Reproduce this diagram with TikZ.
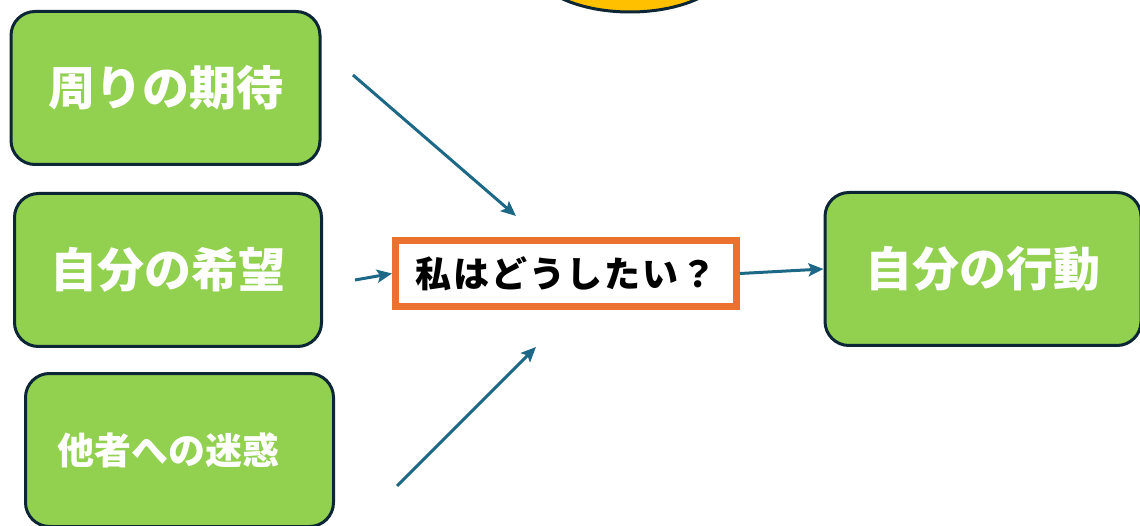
\documentclass[tikz,border=0pt]{standalone}
\usepackage{fontspec}
\newfontfamily\cjk{Noto Sans CJK JP}
\usetikzlibrary{arrows.meta,shapes.geometric}
\definecolor{boxgreen}{HTML}{92D050}
\definecolor{boxline}{HTML}{0C2636}
\definecolor{arrowblue}{HTML}{1D6887}
\definecolor{qorange}{HTML}{EA7130}
\definecolor{sunyellow}{HTML}{FFC000}
\tikzset{
  greenbox/.style={draw=boxline, line width=3pt, fill=boxgreen, rounded corners=24pt,
    text=white, font=\cjk\bfseries\fontsize{47}{52}\selectfont, inner sep=0pt},
  qbox/.style={draw=qorange, line width=7pt, fill=white, inner sep=0pt,
    minimum width=341pt, minimum height=66pt, font=\cjk\bfseries\fontsize{36}{40}\selectfont\addfontfeatures{LetterSpace=5}},
  conn/.style={draw=arrowblue, line width=3pt, -{Stealth[length=15pt,width=13pt,inset=3pt]}}
}
\begin{document}
\begin{tikzpicture}[x=1pt,y=-1pt]
\useasboundingbox (0,0) rectangle (1140,526);
\clip (0,0) rectangle (1140,526);
% yellow ellipse partially visible at top
\node[draw=boxline, line width=3pt, fill=sunyellow, ellipse, minimum width=200pt, minimum height=100pt, inner sep=0pt] (sun) at (630,-38) {};
\node[greenbox, minimum width=309pt, minimum height=153pt] (expect) at (165.5,88) {周りの期待};
\node[greenbox, minimum width=307pt, minimum height=153pt] (wish) at (168,270) {自分の希望};
\node[greenbox, minimum width=308pt, minimum height=153pt, font=\cjk\bfseries\fontsize{37}{42}\selectfont] (trouble) at (179.5,450) {他者への迷惑\hspace*{22pt}};
\node[greenbox, minimum width=316pt, minimum height=153pt] (action) at (983,269) {自分の行動};
\node[qbox] (q) at (566,273.5) {私はどうしたい？};
\coordinate (a1s) at (353,75);
\coordinate (a1e) at (516,216);
\coordinate (a2s) at (355,280);
\coordinate (a3s) at (397,486);
\coordinate (a3e) at (536,347);
\draw[conn] (a1s) -- (a1e);
\draw[conn] (a2s) -- (q.west);
\draw[conn] (a3s) -- (a3e);
\draw[conn] (q.east) -- (action.west);
\end{tikzpicture}
\end{document}
